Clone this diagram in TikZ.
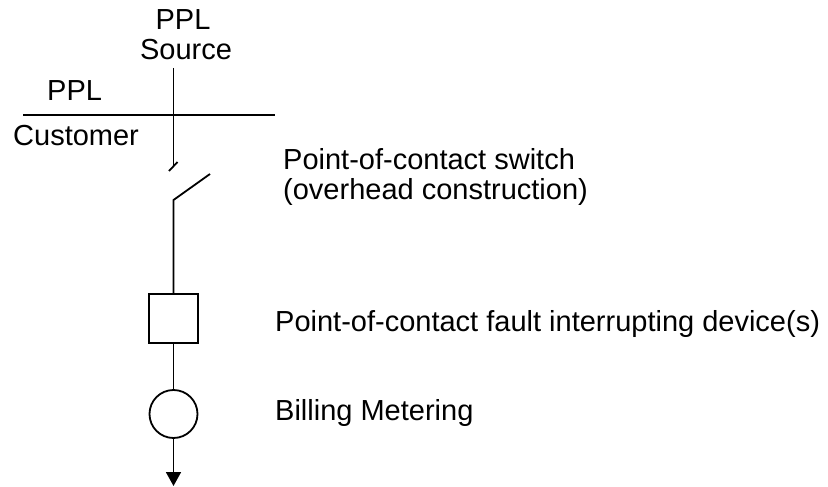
\documentclass[tikz,border=0pt]{standalone}
\usepackage{fontspec}
\setmainfont{Liberation Sans}
\usetikzlibrary{arrows.meta}
\begin{document}
\begin{tikzpicture}[x=1pt,y=-1pt,
  wire/.style={line width=1.8pt, line cap=butt},
  lbl/.style={inner sep=0pt, font=\fontsize{29}{33}\selectfont},
  device/.style={draw, line width=1.8pt, inner sep=0pt, fill=white}]
\useasboundingbox (0,0) rectangle (828,487);
% labels
\node[lbl, anchor=base] (srcA) at (183,30) {PPL};
\node[lbl, anchor=base] (srcB) at (186,60) {Source};
\node[lbl, anchor=base west] (pplL) at (47,100) {PPL};
\node[lbl, anchor=base west] (cust) at (13,146) {Customer};
\node[lbl, anchor=base west] (swlA) at (283,169) {Point-of-contact switch};
\node[lbl, anchor=base west] (swlB) at (283,199) {(overhead construction)};
\node[lbl, anchor=base west] (fil) at (275,331) {Point-of-contact fault interrupting device(s)};
\node[lbl, anchor=base west] (bml) at (275,420) {Billing Metering};
% coordinates
\coordinate (top) at (173.5,68);
\coordinate (busL) at (23,115);
\coordinate (busR) at (275,115);
\coordinate (cUp) at (173.5,167);
\coordinate (tkA) at (169,171);
\coordinate (tkB) at (177.5,162);
\coordinate (pivot) at (173.5,200);
\coordinate (blade) at (210,174);
\coordinate (tip) at (173.5,486);
% devices
\node[device, minimum width=49pt, minimum height=49pt] (fid) at (173.5,318.5) {};
\node[device, circle, minimum size=48pt] (meter) at (173.5,414) {};
% wires
\draw[wire] (busL) -- (busR);
\draw[wire] (top) -- (cUp);
\draw[wire] (tkA) -- (tkB);
\draw[wire] (blade) -- (pivot) -- (fid.north);
\draw[wire] (fid.south) -- (meter.north);
\draw[wire, -{Triangle[length=14pt,width=15pt]}] (meter.south) -- (tip);
\end{tikzpicture}
\end{document}
